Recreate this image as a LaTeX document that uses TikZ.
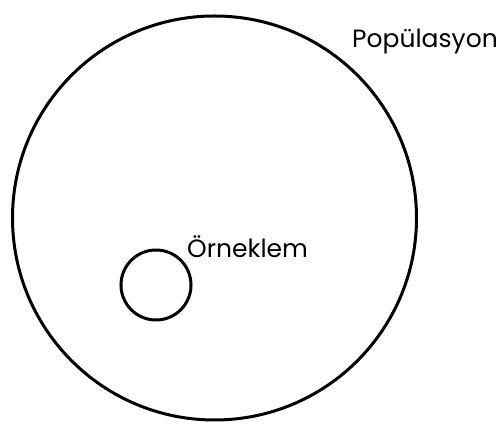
\documentclass[tikz,border=0pt]{standalone}
\usepackage{fontspec}
\setmainfont{Poppins}
\usetikzlibrary{positioning}
\tikzset{
  set/.style={circle,draw=black,line width=3pt,fill=none,inner sep=0pt},
  setlabel/.style={font=\fontsize{25}{28}\selectfont,text=black,inner sep=0pt,anchor=base west}
}

\begin{document}
\begin{tikzpicture}[x=1pt,y=1pt]
  \useasboundingbox (0,0) rectangle (501,430);
  \node[set,minimum size=404pt] (pop) at (214.5,212) {};
  \node[set,minimum size=70pt] (sample) at (156,145) {};
  \node[setlabel] (poplabel) at (352,382) {Popülasyon};
  \node[setlabel] (samplelabel) at (187,172) {Örneklem};
\end{tikzpicture}
\end{document}
